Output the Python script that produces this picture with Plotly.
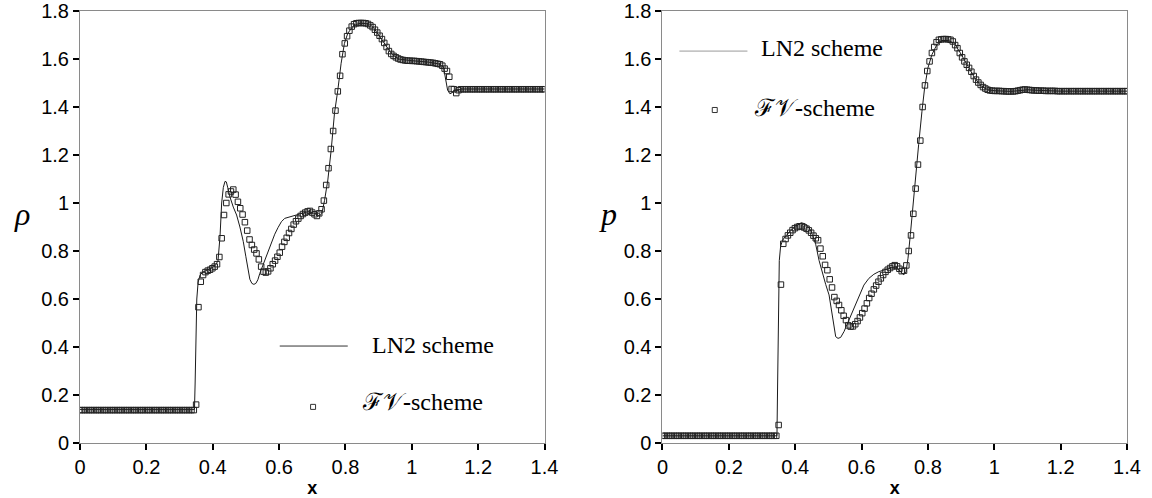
import numpy as np
import plotly.graph_objects as go
from plotly.subplots import make_subplots

# ---------------- data ----------------
# FV-scheme markers, uniform grid x = 0.007*i
fv_x = [round(0.007 * i, 4) for i in range(201)]

rho_fv = ([0.137] * 50 + [
    0.16, 0.566, 0.672, 0.70, 0.712, 0.718, 0.722, 0.728, 0.735, 0.745,
    0.775, 0.853, 0.95, 1.0, 1.036, 1.048, 1.056, 1.035, 1.005, 0.978,
    0.952, 0.92, 0.885, 0.848, 0.825, 0.806, 0.79, 0.765, 0.735, 0.714,
    0.71, 0.715, 0.728, 0.745, 0.76, 0.776, 0.793, 0.818, 0.838, 0.855,
    0.875, 0.892, 0.91, 0.924, 0.935, 0.946, 0.954, 0.96, 0.965, 0.967,
    0.96, 0.953, 0.946, 0.957, 0.974, 1.01, 1.075, 1.145, 1.225, 1.30,
    1.385, 1.465, 1.53, 1.62, 1.665, 1.695, 1.718, 1.735, 1.745, 1.749,
    1.75, 1.75, 1.75, 1.749, 1.746, 1.74, 1.733, 1.722, 1.71, 1.697,
    1.683, 1.667, 1.65, 1.633, 1.621, 1.613, 1.607, 1.602, 1.598, 1.596,
    1.594, 1.593, 1.593, 1.592, 1.592, 1.591, 1.59, 1.589, 1.588, 1.587,
    1.586, 1.585, 1.584, 1.582, 1.58, 1.578, 1.572, 1.56, 1.55, 1.526,
    1.475, 1.474, 1.458, 1.47] + [1.474] * 37)

p_fv = ([0.03] * 50 + [
    0.075, 0.66, 0.83, 0.85, 0.865, 0.876, 0.887, 0.895, 0.90, 0.903,
    0.902, 0.898, 0.893, 0.886, 0.876, 0.864, 0.853, 0.845, 0.81, 0.778,
    0.742, 0.72, 0.682, 0.648, 0.608, 0.592, 0.575, 0.553, 0.53, 0.512,
    0.49, 0.485, 0.486, 0.495, 0.508, 0.523, 0.541, 0.56, 0.582, 0.604,
    0.622, 0.64, 0.656, 0.672, 0.686, 0.70, 0.713, 0.722, 0.729, 0.736,
    0.741, 0.736, 0.726, 0.716, 0.718, 0.74, 0.80, 0.865, 0.955, 1.06,
    1.16, 1.26, 1.40, 1.49, 1.55, 1.59, 1.625, 1.65, 1.67, 1.68,
    1.682, 1.683, 1.683, 1.682, 1.68, 1.673, 1.658, 1.645, 1.625, 1.607,
    1.59, 1.576, 1.563, 1.547, 1.529, 1.514, 1.502, 1.492, 1.483, 1.477,
    1.472, 1.469, 1.468, 1.467, 1.467, 1.467, 1.466, 1.466, 1.465, 1.465,
    1.465, 1.465, 1.466, 1.468, 1.47, 1.472, 1.473, 1.472, 1.471, 1.47,
    1.469, 1.469, 1.468, 1.468, 1.468, 1.467, 1.467, 1.467, 1.467, 1.467]
    + [1.466] * 31)

# LN2 scheme lines
rho_ln_x = [0.0, 0.345, 0.347, 0.349, 0.352, 0.356, 0.362, 0.37, 0.38, 0.39, 0.40,
            0.408, 0.416, 0.422, 0.427, 0.432, 0.437, 0.441, 0.445, 0.452, 0.462, 0.472,
            0.482, 0.492, 0.500, 0.507, 0.512, 0.518, 0.524, 0.530, 0.536, 0.542, 0.557, 0.572,
            0.587, 0.597, 0.607, 0.617, 0.637, 0.662, 0.687, 0.707, 0.722, 0.729, 0.737,
            0.747, 0.757, 0.767, 0.777, 0.787, 0.797, 0.807, 0.822, 0.835, 0.847, 0.86, 0.872,
            0.885, 0.90, 0.92, 0.94, 0.96, 0.98, 1.0, 1.05, 1.08, 1.095, 1.102,
            1.108, 1.115, 1.122, 1.13, 1.15, 1.4]
rho_ln = [0.14, 0.14, 0.25, 0.45, 0.60, 0.67, 0.70, 0.712, 0.72, 0.725, 0.732,
          0.74, 0.76, 0.86, 1.0, 1.065, 1.09, 1.088, 1.066, 1.025, 0.983, 0.95,
          0.90, 0.84, 0.776, 0.714, 0.682, 0.665, 0.661, 0.665, 0.68, 0.707, 0.763, 0.818,
          0.87, 0.898, 0.922, 0.936, 0.945, 0.954, 0.964, 0.957, 0.946, 0.957, 1.01,
          1.096, 1.22, 1.374, 1.47, 1.582, 1.665, 1.707, 1.735, 1.745, 1.749, 1.749, 1.746,
          1.73, 1.70, 1.66, 1.62, 1.60, 1.595, 1.593, 1.587, 1.58, 1.57, 1.52,
          1.47, 1.455, 1.46, 1.47, 1.475, 1.475]

p_ln_x = [0.0, 0.345, 0.347, 0.349, 0.352, 0.356, 0.362, 0.37, 0.38, 0.39, 0.405,
          0.418, 0.430, 0.442, 0.452, 0.462, 0.472, 0.482, 0.492, 0.502, 0.512,
          0.522, 0.529, 0.537, 0.547, 0.562, 0.577, 0.592, 0.607, 0.622, 0.637,
          0.652, 0.672, 0.692, 0.702, 0.717, 0.727, 0.734, 0.74, 0.747, 0.754,
          0.762, 0.772, 0.782, 0.79, 0.80, 0.812, 0.827, 0.842, 0.862, 0.88,
          0.90, 0.92, 0.94, 0.96, 0.98, 1.0, 1.05, 1.09, 1.1, 1.12, 1.2, 1.4]
p_ln = [0.03, 0.03, 0.25, 0.55, 0.76, 0.82, 0.845, 0.86, 0.875, 0.89, 0.905,
        0.918, 0.913, 0.897, 0.868, 0.826, 0.76, 0.705, 0.66, 0.617, 0.519,
        0.443, 0.436, 0.44, 0.464, 0.513, 0.561, 0.617, 0.658, 0.686, 0.703,
        0.714, 0.721, 0.731, 0.735, 0.714, 0.701, 0.714, 0.77, 0.868, 0.979,
        1.104, 1.243, 1.382, 1.479, 1.563, 1.618, 1.66, 1.677, 1.677, 1.665,
        1.62, 1.572, 1.523, 1.488, 1.472, 1.468, 1.465, 1.47, 1.472, 1.47, 1.466, 1.466]

x_ticks = [0, 0.2, 0.4, 0.6, 0.8, 1.0, 1.2, 1.4]
x_tick_text = ["0", "0.2", "0.4", "0.6", "0.8", "1", "1.2", "1.4"]
y_ticks = [0, 0.2, 0.4, 0.6, 0.8, 1.0, 1.2, 1.4, 1.6, 1.8]
y_tick_text = ["0", "0.2", "0.4", "0.6", "0.8", "1", "1.2", "1.4", "1.6", "1.8"]

# ---------------- figure ----------------
fig = make_subplots(rows=1, cols=2, horizontal_spacing=0.1127)

line_style = dict(color="#1a1a1a", width=1)
marker_style = dict(symbol="square-open", size=5.5, color="#222",
                    line=dict(width=1, color="#222"))

fig.add_trace(go.Scatter(x=rho_ln_x, y=rho_ln, mode="lines", line=line_style,
                         name="LN2 scheme"), 1, 1)
fig.add_trace(go.Scatter(x=fv_x, y=rho_fv, mode="markers", marker=marker_style,
                         name="FV-scheme"), 1, 1)
fig.add_trace(go.Scatter(x=p_ln_x, y=p_ln, mode="lines", line=line_style,
                         name="LN2 scheme"), 1, 2)
fig.add_trace(go.Scatter(x=fv_x, y=p_fv, mode="markers", marker=marker_style,
                         name="FV-scheme"), 1, 2)

tick_font = dict(family="Liberation Sans, Arial, sans-serif", size=20, color="#000")
axis_common = dict(showline=True, linecolor="#8a8a8a", linewidth=1, mirror=True,
                   ticks="outside", tickcolor="#000", ticklen=6, tickwidth=2,
                   showgrid=False, zeroline=False, tickfont=tick_font,
                   automargin=False)

for c in (1, 2):
    fig.update_xaxes(range=[0, 1.4], tickvals=x_ticks, ticktext=x_tick_text,
                     title=dict(text="<b>x</b>", font=dict(family="Liberation Sans, Arial", size=18, color="#000"),
                                standoff=8),
                     row=1, col=c, **axis_common)
    fig.update_yaxes(range=[0, 1.8], tickvals=y_ticks, ticktext=y_tick_text,
                     row=1, col=c, **axis_common)

serif = "Liberation Serif, Times New Roman, serif"
ann = []
# y-axis labels (upright italic)
ann.append(dict(text="<i>ρ</i>", xref="paper", yref="paper", x=-0.055, y=0.53,
                xanchor="center", yanchor="middle", showarrow=False,
                font=dict(family="Liberation Serif, serif", size=32, color="#000")))
ann.append(dict(text="<i>p</i>", xref="paper", yref="paper", x=0.5045, y=0.53,
                xanchor="center", yanchor="middle", showarrow=False,
                font=dict(family="Liberation Serif, serif", size=32, color="#000")))
# legends
leg_font = dict(family=serif, size=24, color="#000")
ann.append(dict(text="LN2 scheme", xref="x", yref="y", x=0.873, y=0.41,
                xanchor="left", yanchor="middle", showarrow=False, font=leg_font))
ann.append(dict(text="ℱ𝒱<b>-</b>scheme", xref="x", yref="y", x=0.843, y=0.17,
                xanchor="left", yanchor="middle", showarrow=False, font=leg_font))
ann.append(dict(text="LN2 scheme", xref="x2", yref="y2", x=0.29, y=1.645,
                xanchor="left", yanchor="middle", showarrow=False, font=leg_font))
ann.append(dict(text="ℱ𝒱<b>-</b>scheme", xref="x2", yref="y2", x=0.269, y=1.395,
                xanchor="left", yanchor="middle", showarrow=False, font=leg_font))
fig.update_layout(annotations=ann)

shapes = [
    dict(type="line", xref="x", yref="y", x0=0.602, x1=0.807, y0=0.404, y1=0.404,
         line=dict(color="#333", width=1)),
    dict(type="rect", xref="x", yref="y", x0=0.695, x1=0.71, y0=0.14, y1=0.161,
         line=dict(color="#333", width=1)),
    dict(type="line", xref="x2", yref="y2", x0=0.051, x1=0.256, y0=1.633, y1=1.633,
         line=dict(color="#999", width=1)),
    dict(type="rect", xref="x2", yref="y2", x0=0.15, x1=0.165, y0=1.377, y1=1.398,
         line=dict(color="#333", width=1)),
]
fig.update_layout(shapes=shapes)

fig.update_layout(width=1152, height=498, showlegend=False,
                  paper_bgcolor="white", plot_bgcolor="white",
                  margin=dict(l=80, r=25, t=11, b=55))

fig.write_html("out.html")
